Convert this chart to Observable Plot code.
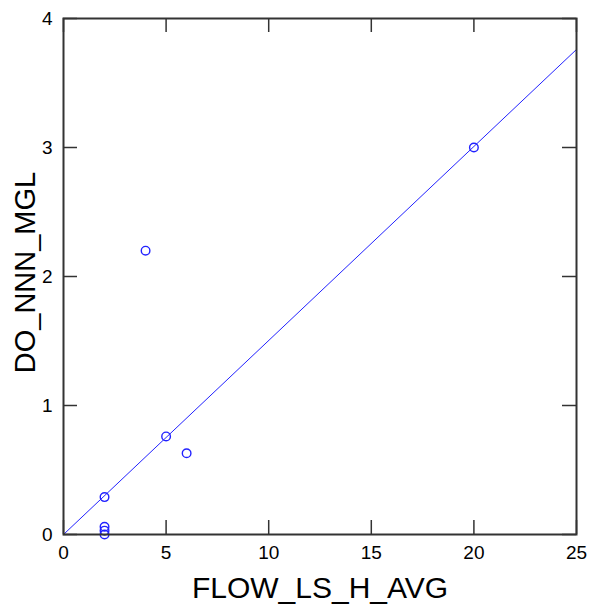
<!DOCTYPE html>
<html><head><meta charset="utf-8">
<script src="https://cdn.jsdelivr.net/npm/d3@7"></script>
<script src="https://cdn.jsdelivr.net/npm/@observablehq/plot@0.6"></script>
<style>body{margin:0;background:#fff;font-family:"Liberation Sans",Arial,sans-serif;}</style>
</head><body><div id="chart"></div>
<script>
const flow = [2, 2, 2, 2, 4, 5, 6, 20];
const doMgl = [0.29, 0.06, 0.03, 0.0, 2.2, 0.76, 0.63, 3.0];
const fitX = [0, 25];
const fitY = [0, 3.76];
const xTicks = [0, 5, 10, 15, 20, 25];
const yTicks = [0, 1, 2, 3, 4];

const W = 589, H = 604, ML = 63, MR = 13, MT = 18, MB = 70;
const innerW = W - ML - MR, innerH = H - MT - MB, TL = 14;

const pts = flow.map((x, i) => ({x, y: doMgl[i]}));
const fit = fitX.map((x, i) => ({x, y: fitY[i]}));
const tickStyle = {stroke: "#333", strokeWidth: 1.5};

const chart = Plot.plot({
  width: W, height: H,
  marginLeft: ML, marginRight: MR, marginTop: MT, marginBottom: MB,
  style: {fontFamily: "Liberation Sans, Arial, sans-serif", background: "#fff", color: "#000"},
  x: {domain: [0, 25]},
  y: {domain: [0, 4]},
  marks: [
    Plot.line(fit, {x: "x", y: "y", stroke: "#2222ff", strokeWidth: 1}),
    Plot.dot(pts, {x: "x", y: "y", r: 4.3, stroke: "#2222ff", strokeWidth: 1.4, fill: "none"}),
    Plot.tickX(xTicks, {x: d => d, insetTop: innerH - TL, ...tickStyle}),
    Plot.tickX(xTicks, {x: d => d, insetBottom: innerH - TL, ...tickStyle}),
    Plot.tickY(yTicks, {y: d => d, insetRight: innerW - TL, ...tickStyle}),
    Plot.tickY(yTicks, {y: d => d, insetLeft: innerW - TL, ...tickStyle}),
    Plot.axisX({anchor: "bottom", ticks: xTicks, tickSize: 0, tickPadding: 11, fontSize: 19, label: null, tickFormat: d3.format("d")}),
    Plot.axisY({anchor: "left", ticks: yTicks, tickSize: 0, tickPadding: 11, fontSize: 19, label: null, tickFormat: d3.format("d")}),
    Plot.frame({stroke: "#333", strokeWidth: 2}),
    Plot.text(["FLOW_LS_H_AVG"], {frameAnchor: "bottom", dy: 63, fontSize: 30, fill: "#000"}),
    Plot.text(["DO_NNN_MGL"], {frameAnchor: "left", textAnchor: "middle", dx: -38, dy: -4, rotate: -90, fontSize: 29, fill: "#000"})
  ]
});
document.getElementById("chart").appendChild(chart);
</script></body></html>
